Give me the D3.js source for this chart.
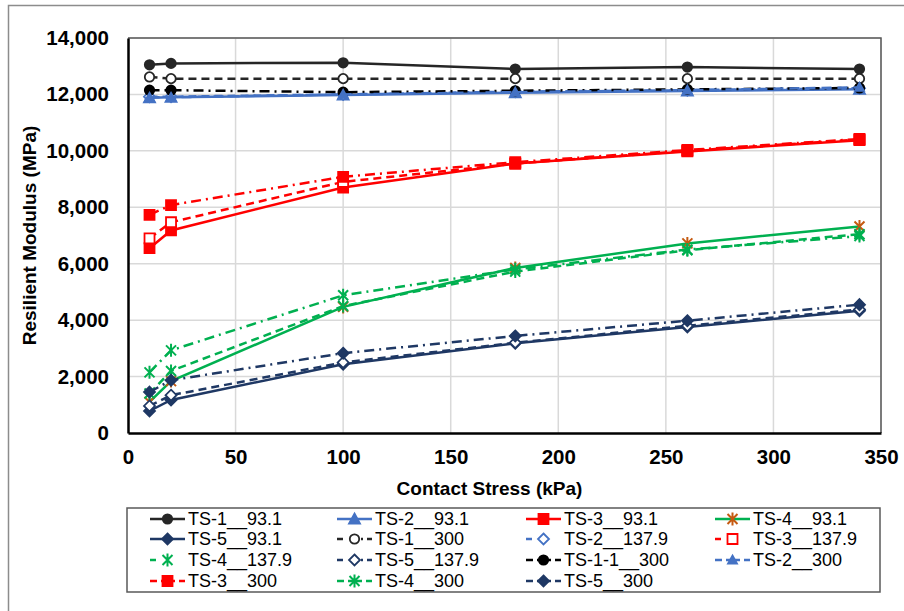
<!DOCTYPE html>
<html><head><meta charset="utf-8">
<script src="https://cdn.jsdelivr.net/npm/d3@7"></script>
<style>body{margin:0;background:#fff}svg{display:block}</style>
</head><body>
<svg id="chart" width="904" height="611"></svg>
<script>
// ---- data ----
const contactStress = [10, 20, 100, 180, 260, 340];
const xTicks = [0, 50, 100, 150, 200, 250, 300, 350];
const yTicks = [0, 2000, 4000, 6000, 8000, 10000, 12000, 14000];

const seriesNames = ["TS-1__93.1","TS-2__93.1","TS-3__93.1","TS-4__93.1","TS-5__93.1",
  "TS-1__300","TS-2__137.9","TS-3__137.9","TS-4__137.9","TS-5__137.9",
  "TS-1-1__300","TS-2__300","TS-3__300","TS-4__300","TS-5__300"];

const ts1_93  = [13050, 13100, 13120, 12900, 12970, 12900];
const ts2_93  = [11880, 11900, 11980, 12060, 12120, 12180];
const ts3_93  = [6550, 7180, 8700, 9550, 9980, 10380];
const ts4_93  = [1100, 1840, 4470, 5850, 6720, 7320];
const ts5_93  = [780, 1170, 2440, 3180, 3760, 4330];
const ts1_300 = [12620, 12560, 12560, 12560, 12560, 12560];
const ts2_137 = [11920, 11920, 12000, 12100, 12150, 12220];
const ts3_137 = [6900, 7470, 8900, 9550, 10000, 10400];
const ts4_137 = [1400, 2200, 4500, 5720, 6480, 7050];
const ts5_137 = [960, 1340, 2500, 3200, 3800, 4380];
const ts11_300 = [12150, 12150, 12080, 12130, 12180, 12230];
const ts2_300 = [11900, 11900, 12000, 12080, 12150, 12250];
const ts3_300 = [7730, 8080, 9080, 9600, 10030, 10420];
const ts4_300 = [2150, 2930, 4880, 5800, 6500, 6980];
const ts5_300 = [1450, 1870, 2830, 3440, 3980, 4550];

const seriesValues = [ts1_93, ts2_93, ts3_93, ts4_93, ts5_93, ts1_300, ts2_137, ts3_137, ts4_137, ts5_137,
  ts11_300, ts2_300, ts3_300, ts4_300, ts5_300];

// ---- styles ----
const BLACK="#262626", BLUE="#4472C4", RED="#FF0000", GREEN="#00B050", NAVY="#1F3864", ORANGE="#C55A11";
const SOLID=null, DASH="8,5", DASHDOT="10,5,2,5";
const styles = [
  {c:BLACK, d:SOLID, m:"circle", fill:BLACK, mc:BLACK},
  {c:BLUE, d:SOLID, m:"triangle", fill:BLUE, mc:BLUE},
  {c:RED, d:SOLID, m:"square", fill:RED, mc:RED},
  {c:GREEN, d:SOLID, m:"star", fill:"none", mc:ORANGE},
  {c:NAVY, d:SOLID, m:"diamond", fill:NAVY, mc:NAVY},
  {c:BLACK, d:DASH, m:"circle", fill:"#fff", mc:BLACK, ld:"6,18,2,4"},
  {c:BLUE, d:DASH, m:"diamond", fill:"#fff", mc:BLUE, ld:"6,30"},
  {c:RED, d:DASH, m:"square", fill:"#fff", mc:RED, ld:"6,30"},
  {c:GREEN, d:DASH, m:"star", fill:"none", mc:GREEN, ld:"6,30"},
  {c:NAVY, d:DASH, m:"diamond", fill:"#fff", mc:NAVY, ld:"6,18,2,4"},
  {c:"#000", d:DASHDOT, m:"circle", fill:"#000", mc:"#000", ld:"7,4,14,4,7"},
  {c:BLUE, d:"10,6", m:"triangleSmall", fill:BLUE, mc:BLUE, ld:"7,4,14,4,7"},
  {c:RED, d:DASHDOT, m:"square", fill:RED, mc:RED, ld:"7,4,14,4,7"},
  {c:GREEN, d:DASHDOT, m:"star", fill:"none", mc:GREEN, ld:"7,4,14,4,7"},
  {c:NAVY, d:DASHDOT, m:"diamond", fill:NAVY, mc:NAVY, ld:"7,4,14,4,7"}
];

function markerPath(t){
  switch(t){
    case "circle": return d3.symbol(d3.symbolCircle, 70)();
    case "triangle": return "M0,-5.5L5.5,4.5L-5.5,4.5Z";
    case "triangleSmall": return "M0,-4.5L4.5,3.5L-4.5,3.5Z";
    case "square": return "M-5,-5L5,-5L5,5L-5,5Z";
    case "diamond": return "M0,-5.5L5.5,0L0,5.5L-5.5,0Z";
    case "star": return "M-5,-5L5,5M-5,5L5,-5M0,-6.5L0,6.5";
  }
}

const FONT = "Arial, 'Liberation Sans', sans-serif";
const svg = d3.select("#chart");
const L=128, T=38, R=881, B=433;
const x = d3.scaleLinear().domain([0,350]).range([L,R]);
const y = d3.scaleLinear().domain([0,14000]).range([B,T]);

// outer frame
svg.append("rect").attr("x",8.5).attr("y",5.5).attr("width",1000).attr("height",1000)
  .attr("fill","none").attr("stroke","#8c8c8c").attr("stroke-width",1.5);

// gridlines
const grid = svg.append("g");
grid.selectAll("line.h").data(yTicks.slice(1)).join("line")
  .attr("x1",L).attr("x2",R).attr("y1",d=>y(d)).attr("y2",d=>y(d))
  .attr("stroke","#d9d9d9").attr("stroke-width",1.5);
grid.selectAll("line.v").data(xTicks.slice(1)).join("line")
  .attr("y1",T).attr("y2",B).attr("x1",d=>x(d)).attr("x2",d=>x(d))
  .attr("stroke","#d9d9d9").attr("stroke-width",1.5);

// plot border (top/right gray)
svg.append("path").attr("d",`M${L},${T}H${R}V${B}`).attr("fill","none")
  .attr("stroke","#595959").attr("stroke-width",1.5);

// axes
const yAxis = d3.axisLeft(y).tickValues(yTicks).tickSize(0).tickPadding(19)
  .tickFormat(d3.format(","));
const gy = svg.append("g").attr("transform",`translate(${L},0)`).call(yAxis);
const xAxis = d3.axisBottom(x).tickValues(xTicks).tickSize(0).tickPadding(16);
const gx = svg.append("g").attr("transform",`translate(0,${B})`).call(xAxis);
[gx, gy].forEach(g=>{
  g.select(".domain").attr("stroke","#000").attr("stroke-width",2.5);
  g.selectAll("text").attr("font-family",FONT).attr("font-size",20.5)
    .attr("font-weight","bold").attr("fill","#000");
});

// axis titles
svg.append("text").attr("x",(L+R)/2 - 15).attr("y",495).attr("text-anchor","middle")
  .attr("font-family",FONT).attr("font-size",19).attr("font-weight","bold")
  .text("Contact Stress (kPa)");
svg.append("text").attr("transform",`translate(36,${(T+B)/2}) rotate(-90)`)
  .attr("text-anchor","middle").attr("font-family",FONT).attr("font-size",19)
  .attr("font-weight","bold").text("Resilient Modulus (MPa)");

// series
const line = d3.line().x((d,i)=>x(contactStress[i])).y(d=>y(d));
const sg = svg.append("g");
seriesValues.forEach((vals,k)=>{
  const s = styles[k];
  sg.append("path").datum(vals).attr("d",line).attr("fill","none")
    .attr("stroke",s.c).attr("stroke-width",2.5)
    .attr("stroke-dasharray",s.d);
  sg.selectAll(null).data(vals).join("path")
    .attr("transform",(d,i)=>`translate(${x(contactStress[i])},${y(d)})`)
    .attr("d",markerPath(s.m))
    .attr("fill",s.fill).attr("stroke",s.mc).attr("stroke-width",s.m==="star"?2:1.8);
});

// legend
svg.append("rect").attr("x",127).attr("y",508).attr("width",753).attr("height",84)
  .attr("fill","#fff").attr("stroke","#595959").attr("stroke-width",1.5);
const colX = [150, 337, 526, 715];
const rowY = [519, 539, 560, 581];
const lg = svg.append("g");
seriesNames.forEach((name,k)=>{
  const s = styles[k];
  const cx = colX[k%4], cy = rowY[Math.floor(k/4)];
  lg.append("line").attr("x1",cx).attr("x2",cx+35).attr("y1",cy).attr("y2",cy)
    .attr("stroke",s.c).attr("stroke-width",2.5).attr("stroke-dasharray",s.ld||null);
  lg.append("path").attr("transform",`translate(${cx+17.5},${cy})`)
    .attr("d",markerPath(s.m)).attr("fill",s.fill).attr("stroke",s.mc)
    .attr("stroke-width",s.m==="star"?2:1.8);
  lg.append("text").attr("x",cx+38).attr("y",cy).attr("dy","0.35em")
    .attr("font-family",FONT).attr("font-size",18).attr("fill","#000").text(name);
});
</script>
</body></html>
